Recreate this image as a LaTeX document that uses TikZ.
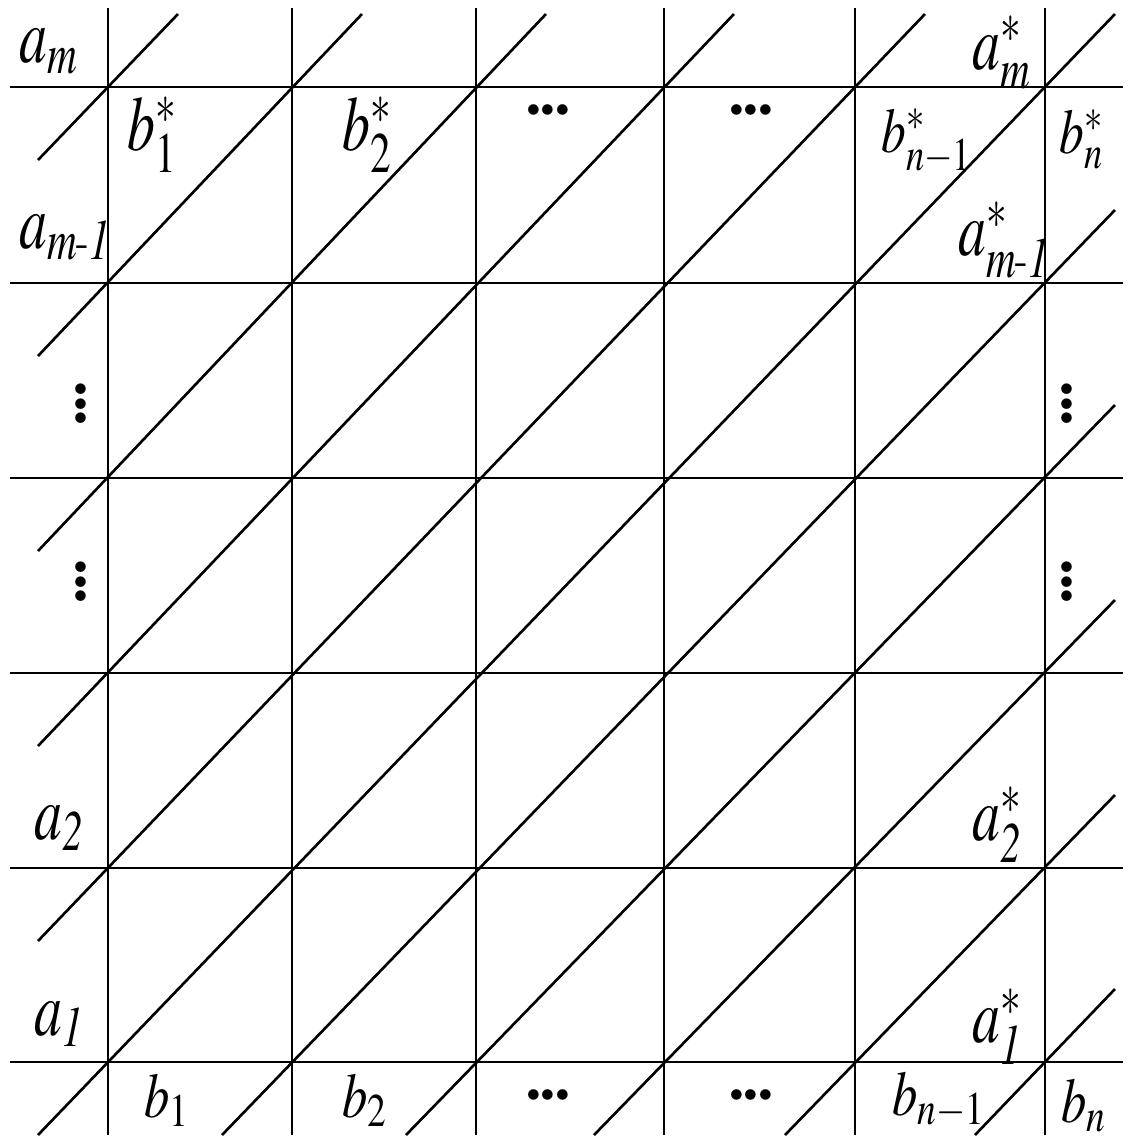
\documentclass[tikz,border=0pt]{standalone}
\usepackage{amsmath}
\usepackage{mathptmx}
\usepackage{graphicx}
\usepackage{tikz}
\usetikzlibrary{calc}

\newcommand{\narrow}[2]{\scalebox{#1}[1]{$#2$}}
\newcommand{\st}{\raisebox{-0.02em}[0pt][0pt]{$\scriptstyle\ast$}}
\newcommand{\onedot}{\makebox[4.1pt]{\textbullet}}
\newcommand{\hdts}{\onedot\onedot\onedot}

\begin{document}
\begin{tikzpicture}[
  x=0.01cm, y=-0.01cm,
  line width=0.75pt,
  lab/.style={inner sep=0pt, anchor=base west, font=\fontsize{22}{26}\selectfont},
  sml/.style={lab, font=\fontsize{18}{22}\selectfont},
  dts/.style={inner sep=0pt, font=\fontsize{10.5}{12}\selectfont}
]
\useasboundingbox (0,0) rectangle (1130,1141);

% corner points of the grid
\foreach \c/\x in {0/108,1/292,2/476,3/664,4/855,5/1045}
  \foreach \r/\y in {0/87,1/283,2/478,3/673,4/868,5/1062}
    \coordinate (p-\c-\r) at (\x,\y);

\foreach \y in {87,283,478,673,868,1062}
  \draw (10,\y) -- (1123,\y);
\foreach \x in {108,292,476,664,855,1045}
  \draw (\x,8) -- (\x,1135);

% diagonals through the corners
\foreach \s in {0,...,10} {
  \pgfmathtruncatemacro{\ra}{min(\s,5)}
  \pgfmathtruncatemacro{\ca}{\s-\ra}
  \pgfmathtruncatemacro{\cb}{min(\s,5)}
  \pgfmathtruncatemacro{\rb}{\s-\cb}
  \draw ($(p-\ca-\ra)+(-70,73)$) -- ($(p-\cb-\rb)+(70,-73)$);
}

% left labels
\node[lab] (am)  at (18,62)   {\narrow{0.72}{a_m}};
\node[lab] (am1) at (18,248)  {\narrow{0.72}{a_{\mathit{m}\text{-}\mathit{1}}}};
\node[lab] (a2)  at (33,839)  {\narrow{0.72}{a_{\mathit{2}}}};
\node[lab] (a1)  at (33,1035) {\narrow{0.72}{a_{\mathit{1}}}};

% right labels
\node[lab] (ams)  at (971,69)   {\narrow{0.72}{a_m^{\st}}};
\node[lab] (am1s) at (957,255)  {\narrow{0.72}{a^{\st}_{\mathit{m}\text{-}\mathit{1}}}};
\node[lab] (a2s)  at (971,840)  {\narrow{0.72}{a^{\st}_{\mathit{2}}}};
\node[lab] (a1s)  at (971,1042) {\narrow{0.72}{a^{\st}_{\mathit{1}}}};

% top labels
\node[lab] (b1s)  at (126,150)  {\narrow{0.72}{b_1^{\st}}};
\node[lab] (b2s)  at (341,150)  {\narrow{0.72}{b_2^{\st}}};
\node[sml] (bn1s) at (880,152)  {\narrow{0.78}{b^{\st}_{n-1}}};
\node[sml] (bns)  at (1058,153) {\narrow{0.78}{b^{\st}_n}};

% bottom labels
\node[sml] (b1)  at (143,1117) {\narrow{0.8}{b_1}};
\node[sml] (b2)  at (341,1117) {\narrow{0.8}{b_2}};
\node[sml] (bn1) at (891,1115) {\narrow{0.8}{b_{n-1}}};
\node[sml] (bn)  at (1060,1122) {\narrow{0.8}{b_n}};

% dots
\node[dts] (h1) at (548,112)  {\hdts};
\node[dts] (h2) at (751,112)  {\hdts};
\node[dts] (h3) at (548,1097) {\hdts};
\node[dts] (h4) at (751,1097) {\hdts};
\node[dts, rotate=90] (v1) at (83,404)   {\hdts};
\node[dts, rotate=90] (v2) at (83,582)   {\hdts};
\node[dts, rotate=90] (v3) at (1069,404) {\hdts};
\node[dts, rotate=90] (v4) at (1069,582) {\hdts};
\end{tikzpicture}
\end{document}
